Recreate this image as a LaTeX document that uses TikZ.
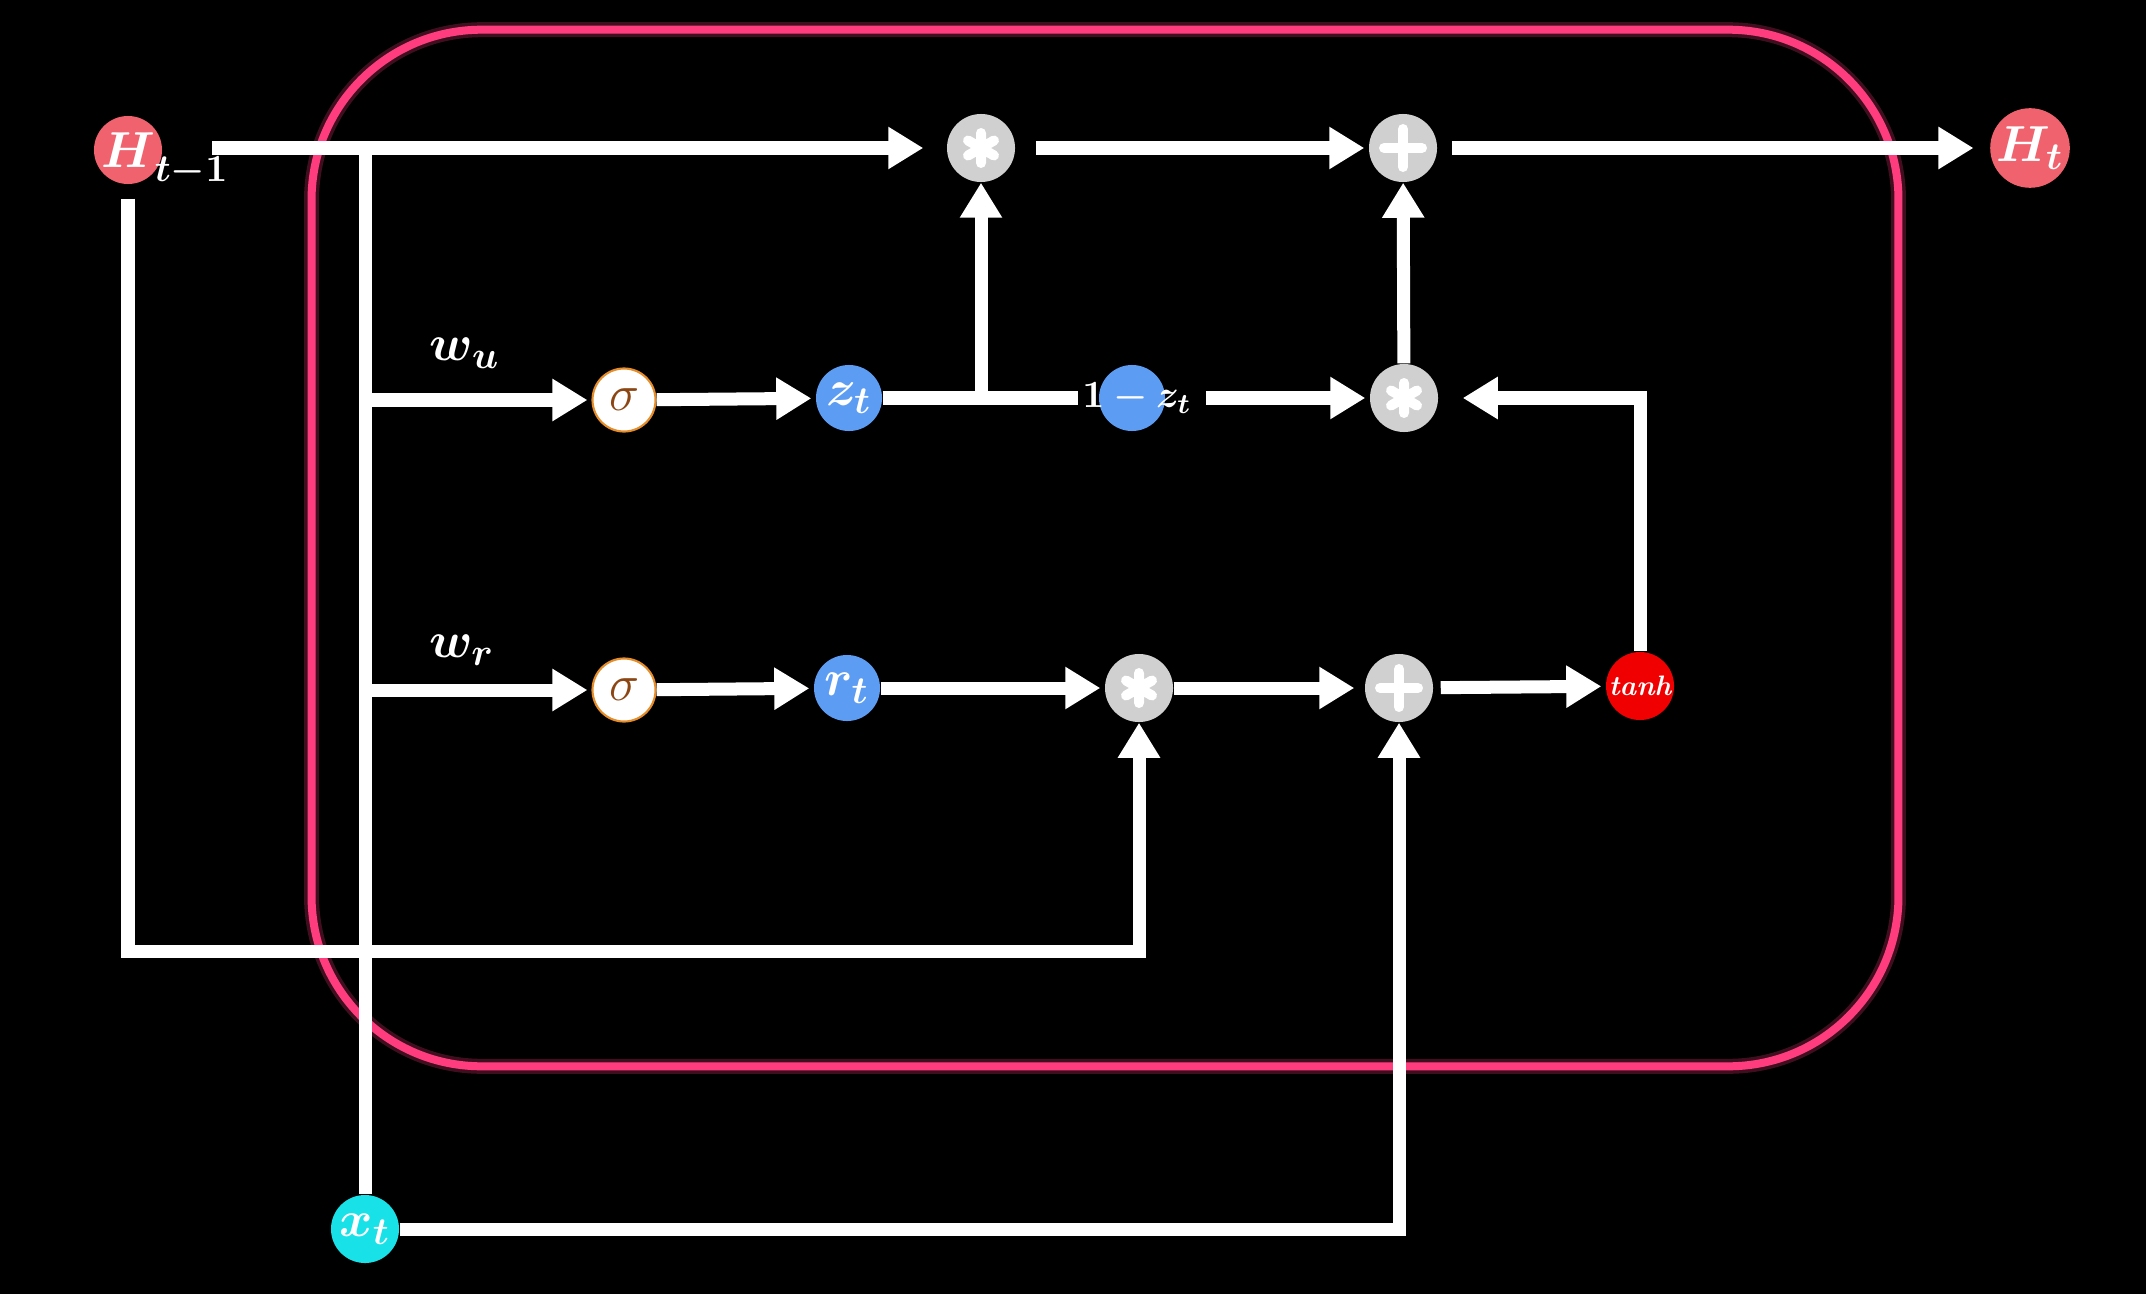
\documentclass[tikz,border=0pt]{standalone}
\usepackage{amsmath,bm,mathtools}
\usetikzlibrary{arrows.meta}
\definecolor{cellpink}{RGB}{255,60,125}
\definecolor{hpink}{RGB}{240,98,110}
\definecolor{opgrey}{RGB}{208,208,208}
\definecolor{gateblue}{RGB}{92,156,242}
\definecolor{xcyan}{RGB}{24,226,232}
\definecolor{sigorange}{RGB}{230,140,40}
\definecolor{sigbrown}{RGB}{140,70,20}
\definecolor{tanhred}{RGB}{240,0,0}
\begin{document}
\begin{tikzpicture}[x=0.01cm,y=-0.01cm,
 wire/.style={white,line width=0.13cm},
 arr/.style={wire,-{Triangle[length=0.35cm,width=0.40cm]},shorten >=0.04cm},
 bub/.style={circle,inner sep=0pt,minimum size=0.68cm,text=white,font=\fontsize{15}{18}\selectfont},
 hnode/.style={bub,fill=hpink},
 gatenode/.style={bub,fill=gateblue,minimum size=0.66cm},
 signode/.style={circle,inner sep=0pt,minimum size=0.63cm,fill=white,draw=sigorange,line width=0.6pt,text=sigbrown,font=\fontsize{15}{18}\selectfont},
 opnode/.style={circle,inner sep=0pt,minimum size=0.68cm,fill=opgrey},
 multop/.style={opnode,path picture={\draw[white,line width=0.1cm,line cap=round,shift={(path picture bounding box.center)}] (90:0.15cm)--(270:0.15cm) (30:0.15cm)--(210:0.15cm) (150:0.15cm)--(330:0.15cm);}},
 plusop/.style={opnode,path picture={\draw[white,line width=0.1cm,line cap=round,shift={(path picture bounding box.center)}] (0:0.19cm)--(180:0.19cm) (90:0.19cm)--(270:0.19cm);}},
 wlabel/.style={text=white,font=\fontsize{15}{18}\selectfont},
 cellshape/.style={draw=cellpink,rounded corners=1.7cm,minimum width=15.86cm,minimum height=10.36cm,inner sep=0pt}
]
\fill[black] (0,0) rectangle (2146,1294);
\useasboundingbox (0,0) rectangle (2146,1294);

% cell border
\node[cellshape,opacity=0.25,line width=0.15cm] (cellglow) at (1105,548) {};
\node[cellshape,line width=0.08cm] (cell) at (1105,548) {};

% nodes
\node[hnode] (hp) at (128,150) {$\bm{H}\mathrlap{\smash{\raisebox{-4pt}{$\scriptstyle\bm{t-1}$}}}$};
\node[hnode] (ht) at (2030,148) {$\bm{H_t}$};
\node[multop] (m1) at (981,148) {};
\node[plusop] (p1) at (1403,148) {};
\node[signode] (s1) at (624,400) {$\sigma$};
\node[gatenode] (zt) at (849,398) {$\bm{z_t}$};
\node[gatenode] (omz) at (1132,398) {};
\node[text=white,font=\fontsize{11}{13}\selectfont,inner sep=1pt] (omzl) at (1137,398) {$\bm{1-z_t}$};
\node[multop] (m2) at (1404,398) {};
\node[signode] (s2) at (624,690) {$\sigma$};
\node[gatenode] (rt) at (847,688) {$\bm{r_t}$};
\node[multop] (m3) at (1139,688) {};
\node[plusop] (p2) at (1399,688) {};
\node[circle,fill=tanhred,minimum size=0.68cm,inner sep=0pt,text=white,font=\fontsize{8}{9}\selectfont\bfseries\itshape] (th) at (1640,686) {tanh};
\node[bub,fill=xcyan] (xt) at (365,1229) {$\bm{x_t}$};
\node[wlabel] (wu) at (465,353) {$\bm{w_u}$};
\node[wlabel] (wr) at (462,650) {$\bm{w_r}$};

\coordinate (hs) at (212,148);
\coordinate (j0) at (365,142);
\coordinate (c1) at (128,951);

% connectors
\draw[wire] (j0) -- (xt);
\draw[arr,shorten >=0.23cm] (hs) -- (m1);
\draw[arr] (j0 |- s1) -- (s1);
\draw[arr] (j0 |- s2) -- (s2);
\draw[arr] (s1) -- (zt);
\draw[arr] (s2) -- (rt);
\draw[wire] (zt) -- (omzl.west);
\draw[arr,shorten >=0pt] (m1 |- zt) -- (m1);
\draw[arr,shorten <=0.2cm] (m1) -- (p1);
\draw[arr,shorten <=0.14cm,shorten >=0.16cm] (p1) -- (ht);
\draw[arr,shorten <=0.1cm] (omzl) -- (m2);
\draw[arr,shorten >=0pt] (m2) -- (p1);
\draw[arr,shorten >=0.24cm] (th) |- (m2);
\draw[arr] (rt) -- (m3);
\draw[arr,shorten >=0.1cm] (m3) -- (p2);
\draw[arr,shorten <=0.07cm] (p2) -- (th);
\draw[arr,shorten <=0.14cm,shorten >=0pt] (hp) -- (hp |- c1) -| (m3);
\draw[arr,shorten >=0pt] (xt) -| (p2);
\end{tikzpicture}
\end{document}
